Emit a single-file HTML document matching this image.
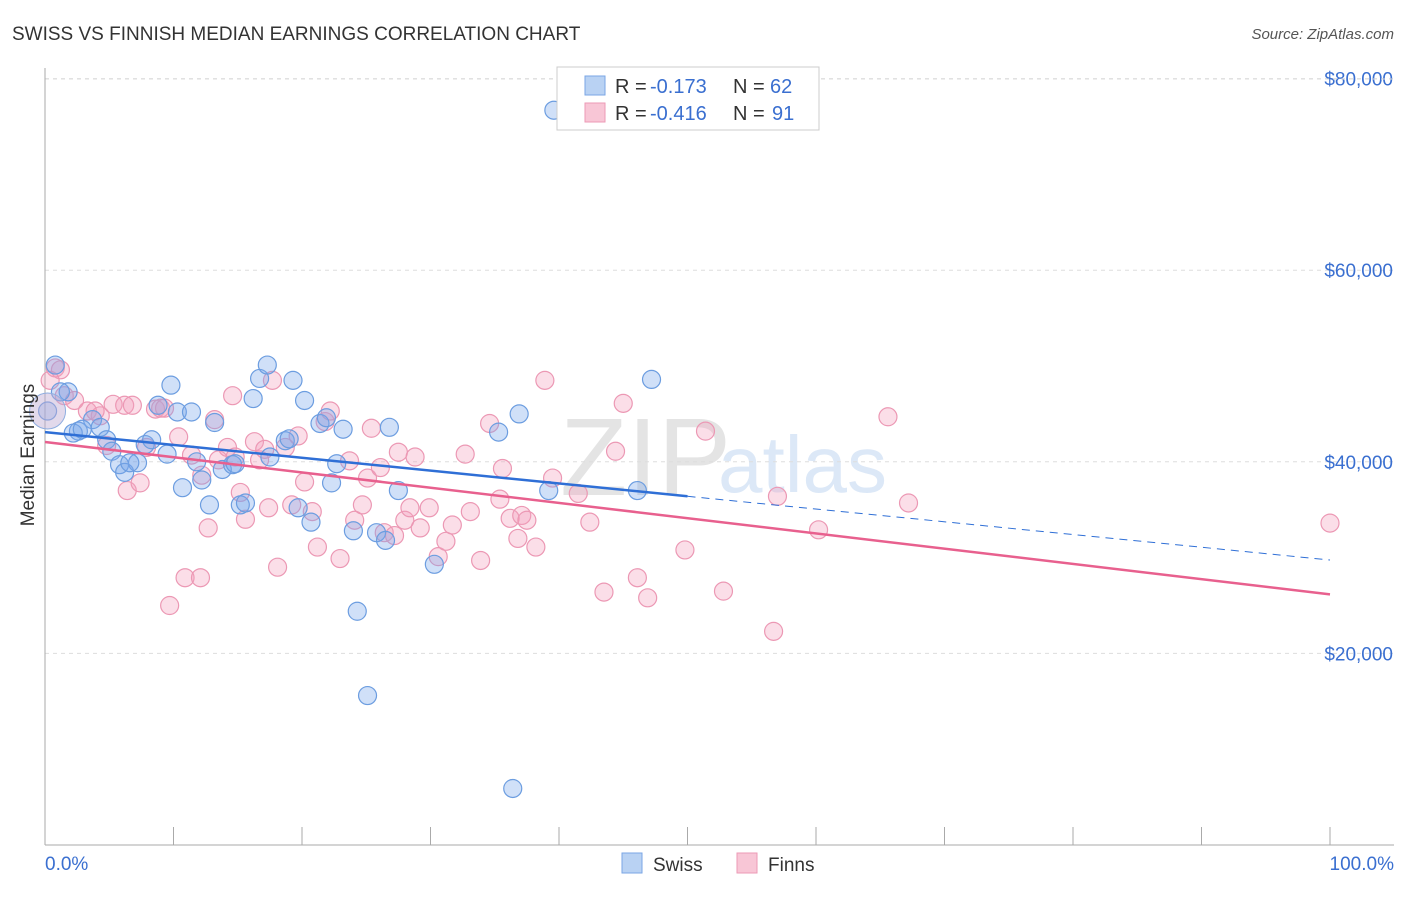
<!DOCTYPE html>
<html><head><meta charset="utf-8"><style>
body{margin:0;background:#fff;font-family:"Liberation Sans",sans-serif}
svg text{font-family:"Liberation Sans",sans-serif}
</style></head><body>
<svg id="chart" width="1406" height="892" viewBox="0 0 1406 892">
<text x="12" y="40" font-size="19" fill="#333">SWISS VS FINNISH MEDIAN EARNINGS CORRELATION CHART</text>
<text x="1394" y="39" font-size="15" fill="#555" text-anchor="end" font-style="italic">Source: ZipAtlas.com</text>
<text x="560" y="495" font-size="110" fill="#e4e4e4" font-family="Liberation Serif">ZIP</text>
<text x="718" y="492" font-size="80" fill="#dce8f7">atlas</text>
<g id="grid"></g><g id="axes"></g><g id="pts"></g><g id="lines"></g>
<text transform="translate(34,455) rotate(-90)" font-size="19" fill="#333" text-anchor="middle">Median Earnings</text>
<text x="45" y="870" font-size="19" fill="#3a6fd0">0.0%</text>
<text x="1394" y="870" font-size="19" fill="#3a6fd0" text-anchor="end">100.0%</text>
<g>
<rect x="557" y="67" width="262" height="63" fill="#fff" stroke="#ccc"/>
<rect x="585" y="76" width="20" height="19" fill="#b9d2f3" stroke="#7aa6e4"/>
<text x="615" y="93" font-size="20" fill="#333">R =</text>
<text x="650" y="93" font-size="20" fill="#3a6fd0">-0.173</text>
<text x="733" y="93" font-size="20" fill="#333">N =</text>
<text x="770" y="93" font-size="20" fill="#3a6fd0">62</text>
<rect x="585" y="103" width="20" height="19" fill="#f8c6d6" stroke="#ec9ab6"/>
<text x="615" y="120" font-size="20" fill="#333">R =</text>
<text x="650" y="120" font-size="20" fill="#3a6fd0">-0.416</text>
<text x="733" y="120" font-size="20" fill="#333">N =</text>
<text x="772" y="120" font-size="20" fill="#3a6fd0">91</text>
</g>
<g>
<rect x="622" y="853" width="20" height="20" fill="#b9d2f3" stroke="#7aa6e4"/>
<text x="653" y="871" font-size="19" fill="#333">Swiss</text>
<rect x="737" y="853" width="20" height="20" fill="#f8c6d6" stroke="#ec9ab6"/>
<text x="768" y="871" font-size="19" fill="#333">Finns</text>
</g>
</svg>
<script>
const yTicks=[20000,40000,60000,80000];
const yTickLabels=["$20,000","$40,000","$60,000","$80,000"];
const swissX=[0.8,1.8,3.7,2.6,4.3,4.8,5.2,5.8,6.2,7.2,6.6,7.8,8.3,8.8,9.5,9.8,10.3,11.4,10.7,11.8,12.2,12.8,13.2,13.8,14.6,15.2,15.6,16.2,16.7,17.3,17.5,18.7,19.0,19.3,19.7,20.2,20.7,21.4,21.9,22.3,22.7,23.2,24.0,24.3,25.1,25.8,26.5,26.8,27.5,30.3,35.3,36.4,36.9,39.2,39.6,46.1,47.2,0.2,1.2,2.2,2.9,14.8];
const swissY=[50100,47300,44400,43200,43600,42300,41100,39700,38900,39900,39900,41800,42300,45900,40800,48000,45200,45200,37300,40000,38100,35500,44100,39200,39700,35500,35700,46600,48700,50100,40500,42200,42400,48500,35200,46400,33700,44000,44600,37800,39800,43400,32800,24400,15600,32600,31800,43600,37000,29300,43100,5900,45000,37000,76700,37000,48600,45300,47300,43000,43400,39800];
const finnsX=[0.8,1.2,0.4,1.5,2.3,3.3,4.3,3.9,4.8,5.3,6.2,6.4,6.8,7.4,7.9,8.6,9.0,9.3,9.7,10.4,10.9,11.4,12.1,12.2,12.7,13.2,13.5,14.2,14.6,14.8,15.2,15.6,16.3,16.7,17.1,17.4,17.7,18.1,18.7,19.2,19.7,20.2,20.8,21.2,21.8,22.2,22.96,23.7,24.1,24.7,25.1,25.4,26.1,26.4,27.2,27.5,28.0,28.4,28.8,29.2,29.9,30.6,31.2,31.7,32.7,33.1,33.9,34.6,35.4,35.6,36.2,36.8,37.1,37.5,38.2,38.9,39.5,41.5,42.4,43.5,44.4,45.0,46.1,46.9,49.8,51.4,52.8,56.7,57.0,60.2,65.6,67.2,100];
const finnsY=[49800,49600,48500,46900,46400,45300,44800,45300,41700,46000,45900,37000,45900,37800,41500,45500,45600,45600,25000,42600,27900,40700,27900,38600,33100,44400,40200,41500,46900,40500,36800,34000,42100,40200,41300,35200,48500,29000,41500,35500,42700,37900,34800,31100,44200,45300,29900,40100,33900,35500,38300,43500,39400,32600,32300,41000,33900,35200,40500,33100,35200,30100,31700,33400,40800,34800,29700,44000,36100,39300,34100,32000,34400,33900,31100,48500,38300,36700,33700,26400,41100,46100,27900,25800,30800,43200,26500,22300,36400,32900,44700,35700,33600];
const trendPct=[0,50,100];
const swissTrend=[43100,36400,29750];
const finnsTrend=[42070,34100,26160];
const X0=45,X1=1330,YB=845,YPX=191.6/20000;
const sx=p=>X0+(X1-X0)*p/100, sy=v=>YB-v*YPX;
const NS="http://www.w3.org/2000/svg";
function mk(parent,tag,attrs){const e=document.createElementNS(NS,tag);for(const k in attrs)e.setAttribute(k,attrs[k]);document.getElementById(parent).appendChild(e);return e;}
yTicks.forEach((t,i)=>{
 const g=mk('grid','line',{x1:X0,x2:1394,y1:sy(t),y2:sy(t),stroke:'#ddd','stroke-dasharray':'4,4'});
 
 
 const l=mk('grid','text',{x:1393,y:sy(t)+7,'font-size':19,fill:'#3a6fd0','text-anchor':'end'});
 l.textContent=yTickLabels[i];
 
 
});
const topLine=mk('grid','line',{x1:X0,x2:1394,y1:79,y2:79,stroke:'#ddd','stroke-dasharray':'4,4'});


const ya=mk('axes','line',{x1:X0,x2:X0,y1:68,y2:YB,stroke:'#aaa'});


const xa=mk('axes','line',{x1:X0,x2:1394,y1:YB,y2:YB,stroke:'#aaa'});


for(let i=1;i<=10;i++){const t=mk('axes','line',{x1:sx(i*10),x2:sx(i*10),y1:YB,y2:YB-18,stroke:'#aaa'});
 
 }
function drawPts(xs,ys,fill,stroke,name){const n=Math.min(xs.length,ys.length);for(let i=0;i<n;i++){
 const c=mk('pts','circle',{cx:sx(xs[i]),cy:sy(ys[i]),r:9,fill:fill,stroke:stroke,'stroke-width':1.2});
 
 }}
drawPts(finnsX,finnsY,'rgba(244,160,188,0.35)','#ec98b4','finns-point');
drawPts(swissX,swissY,'rgba(120,165,235,0.35)','#6c9de0','swiss-point');
const big=mk('pts','circle',{cx:sx(0.2),cy:sy(45300),r:18,fill:'rgba(190,170,210,0.45)',stroke:'#8faee0'});


const b1=mk('lines','line',{x1:sx(trendPct[0]),y1:sy(swissTrend[0]),x2:sx(trendPct[1]),y2:sy(swissTrend[1]),stroke:'#2f6fd6','stroke-width':2.5});


const b2=mk('lines','line',{x1:sx(trendPct[1]),y1:sy(swissTrend[1]),x2:sx(trendPct[2]),y2:sy(swissTrend[2]),stroke:'#2f6fd6','stroke-width':1,'stroke-dasharray':'8,6'});


const p1=mk('lines','line',{x1:sx(trendPct[0]),y1:sy(finnsTrend[0]),x2:sx(trendPct[2]),y2:sy(finnsTrend[2]),stroke:'#e8608e','stroke-width':2.5});


</script>
</body></html>
